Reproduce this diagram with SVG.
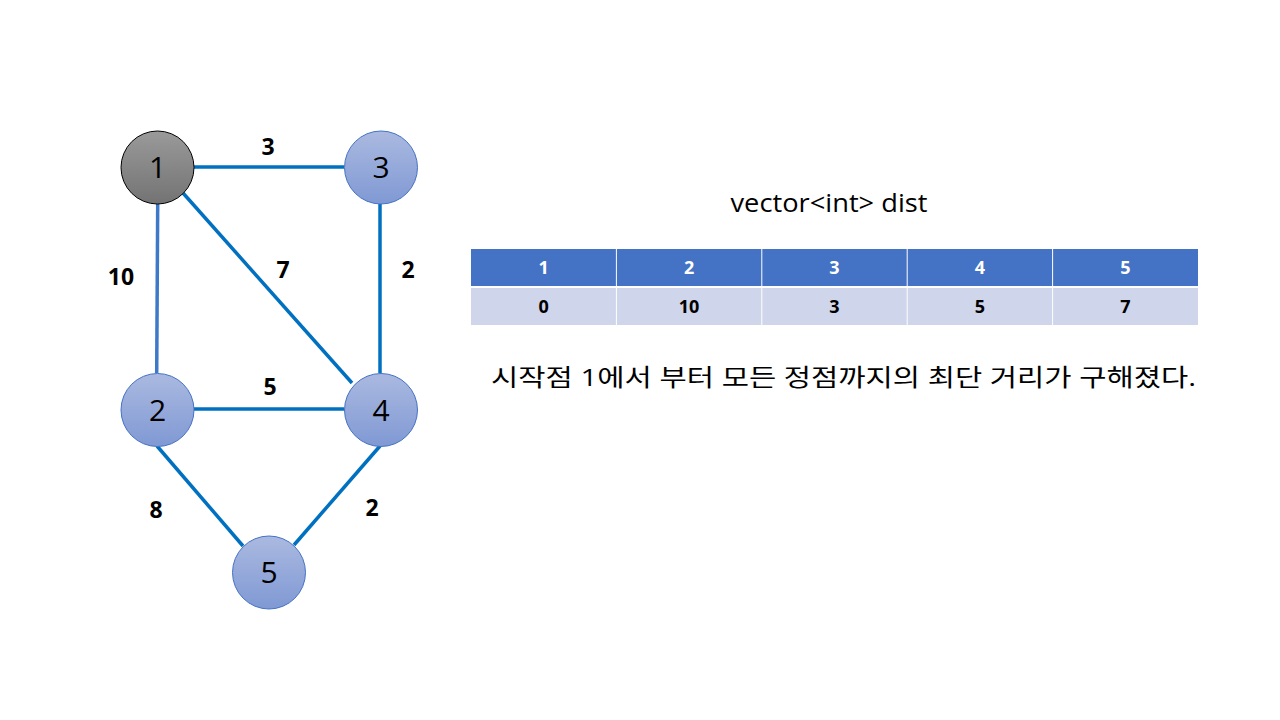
<svg xmlns="http://www.w3.org/2000/svg" width="1280" height="720" viewBox="0 0 1280 720">
<style>
.edge{stroke:#0070C0;stroke-width:3.5;fill:none}
.node{fill:url(#gb);stroke:#4472C4;stroke-width:1}
.nt{font-family:"Open Sans","Noto Sans",sans-serif;font-size:30px;fill:#000;text-anchor:middle}
.el{font-family:"Open Sans","Noto Sans",sans-serif;font-size:23px;font-weight:bold;fill:#000;text-anchor:middle}
.th{font-family:"Open Sans","Noto Sans",sans-serif;font-size:18px;font-weight:bold;fill:#fff;text-anchor:middle}
.td{font-family:"Open Sans","Noto Sans",sans-serif;font-size:18px;font-weight:bold;fill:#000;text-anchor:middle}
.t{font-family:"Open Sans","Noto Sans","Noto Sans CJK KR",sans-serif;font-size:24px;fill:#000}
</style>
<defs>
<linearGradient id="gb" x1="0" y1="0" x2="0" y2="1">
<stop offset="0" stop-color="#AAB9E0"/>
<stop offset="1" stop-color="#8099D4"/>
</linearGradient>
<linearGradient id="gg" x1="0" y1="0" x2="0" y2="1">
<stop offset="0" stop-color="#9A9A9A"/>
<stop offset="1" stop-color="#737373"/>
</linearGradient>
</defs>
<rect width="1280" height="720" fill="#fff"/>
<g id="connectors">
<line class="edge" x1="194" y1="167" x2="344" y2="167"/>
<line class="edge" x1="157.7" y1="204" x2="156.7" y2="373" style="stroke:#3D79C8"/>
<line class="edge" x1="183" y1="193" x2="352" y2="383"/>
<line class="edge" x1="380" y1="204" x2="380" y2="373"/>
<line class="edge" x1="194" y1="409" x2="344" y2="409"/>
<line class="edge" x1="157" y1="446" x2="243" y2="546"/>
<line class="edge" x1="380" y1="446" x2="294" y2="545"/>
<text class="el" x="268" y="155">3</text>
<text class="el" x="121" y="285">10</text>
<text class="el" x="283" y="278">7</text>
<text class="el" x="408" y="278">2</text>
<text class="el" x="270" y="395">5</text>
<text class="el" x="156" y="518">8</text>
<text class="el" x="372" y="516">2</text>
</g>
<g id="node1"><circle cx="157.5" cy="167.5" r="36.5" fill="url(#gg)" stroke="#000" stroke-width="1"/><text class="nt" x="157.5" y="178">1</text></g>
<g id="node3"><circle class="node" cx="381" cy="167.5" r="36.5"/><text class="nt" x="381" y="178">3</text></g>
<g id="node2"><circle class="node" cx="157.5" cy="410" r="36.5"/><text class="nt" x="157.5" y="420.5">2</text></g>
<g id="node4"><circle class="node" cx="381" cy="410" r="36.5"/><text class="nt" x="381" y="420.5">4</text></g>
<g id="node5"><circle class="node" cx="269" cy="572.5" r="36.5"/><text class="nt" x="269" y="583">5</text></g>
<g id="title"><text class="t" x="829" y="212" text-anchor="middle" textLength="197" lengthAdjust="spacingAndGlyphs" style="font-size:26px">vector&lt;int&gt; dist</text></g>
<g id="table">
<rect x="471" y="249" width="727" height="37" fill="#4472C4"/>
<rect x="471" y="288" width="727" height="37" fill="#CFD5EA"/>
<line x1="471" y1="287" x2="1198" y2="287" stroke="#fff" stroke-width="2"/>
<g stroke="#fff" stroke-width="1">
<line x1="616.4" y1="249" x2="616.4" y2="325"/>
<line x1="761.8" y1="249" x2="761.8" y2="325"/>
<line x1="907.2" y1="249" x2="907.2" y2="325"/>
<line x1="1052.6" y1="249" x2="1052.6" y2="325"/>
</g>
<text class="th" x="543.7" y="274">1</text>
<text class="th" x="689.1" y="274">2</text>
<text class="th" x="834.5" y="274">3</text>
<text class="th" x="979.9" y="274">4</text>
<text class="th" x="1125.3" y="274">5</text>
<text class="td" x="543.7" y="313">0</text>
<text class="td" x="689.1" y="313">10</text>
<text class="td" x="834.5" y="313">3</text>
<text class="td" x="979.9" y="313">5</text>
<text class="td" x="1125.3" y="313">7</text>
</g>
<g id="caption"><text class="t" x="491" y="386" textLength="705" lengthAdjust="spacingAndGlyphs">시작점 1에서 부터 모든 정점까지의 최단 거리가 구해졌다.</text></g>
</svg>
